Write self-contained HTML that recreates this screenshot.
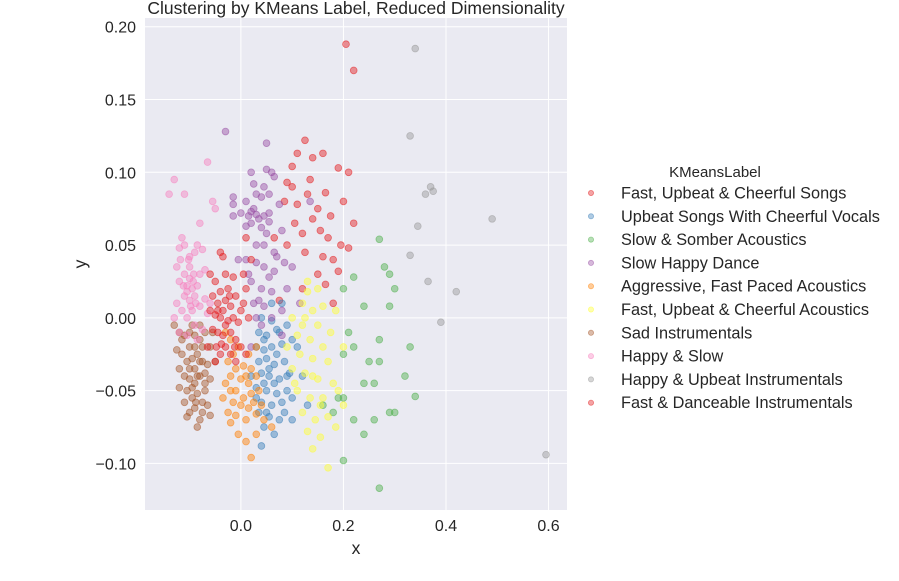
<!DOCTYPE html>
<html><head><meta charset="utf-8">
<style>
body{margin:0;background:#fff;}
svg text{font-family:"Liberation Sans",Arial,sans-serif;fill:#262626;}
</style></head>
<body>
<svg id="chart" width="899" height="576" xmlns="http://www.w3.org/2000/svg">
<rect x="145" y="18" width="422" height="492" fill="#eaeaf2"/>
<g id="grid"></g>
<g id="pts"></g>
<g id="ticks"></g>
<text x="356" y="14" font-size="17.5" text-anchor="middle">Clustering by KMeans Label, Reduced Dimensionality</text>
<text x="356" y="554" font-size="17.5" text-anchor="middle">x</text>
<text x="86" y="264" font-size="17.5" text-anchor="middle" transform="rotate(-90 86 264)">y</text>
<g id="legend">
<text x="715" y="177" font-size="15" text-anchor="middle">KMeansLabel</text>
</g>
</svg>
<script>
const xTicks=[0.0,0.2,0.4,0.6];
const xTickLabels=["0.0","0.2","0.4","0.6"];
const yTicks=[0.20,0.15,0.10,0.05,0.00,-0.05,-0.10];
const yTickLabels=["0.20","0.15","0.10","0.05","0.00","\u22120.05","\u22120.10"];
const labels=["Fast, Upbeat & Cheerful Songs","Upbeat Songs With Cheerful Vocals","Slow & Somber Acoustics","Slow Happy Dance","Aggressive, Fast Paced Acoustics","Fast, Upbeat & Cheerful Acoustics","Sad Instrumentals","Happy & Slow","Happy & Upbeat Instrumentals","Fast & Danceable Instrumentals"];
const colors=["#e41a1c","#377eb8","#4daf4a","#984ea3","#ff7f00","#ffff33","#a65628","#f781bf","#999999","#e41a1c"];
const cluster0=[[0.205,0.188],[0.22,0.17],[0.125,0.122],[0.11,0.113],[0.14,0.11],[0.1,0.104],[0.16,0.113],[0.19,0.103],[0.21,0.1],[0.09,0.093],[0.13,0.085],[0.165,0.086],[0.085,0.08],[0.15,0.075],[0.2,0.08],[0.11,0.078],[0.14,0.068],[0.175,0.07],[0.22,0.065],[0.17,0.055],[0.12,0.058],[0.195,0.05],[0.125,0.045],[0.09,0.05],[0.21,0.048],[0.16,0.042],[0.15,0.03],[0.12,0.02],[0.165,0.023],[0.18,0.01],[0.065,0.055],[0.075,0.012],[0.19,0.032],[0.1,0.09],[0.135,0.095],[0.155,0.06],[0.105,0.065],[0.18,0.04]];
const cluster1=[[0.04,0.0],[0.06,-0.002],[0.035,-0.01],[0.05,-0.012],[0.07,-0.008],[0.09,-0.005],[0.03,-0.02],[0.045,-0.022],[0.06,-0.02],[0.08,-0.018],[0.1,-0.015],[0.035,-0.03],[0.05,-0.028],[0.065,-0.032],[0.085,-0.03],[0.04,-0.038],[0.055,-0.04],[0.075,-0.042],[0.095,-0.038],[0.03,-0.048],[0.05,-0.05],[0.07,-0.052],[0.09,-0.05],[0.04,-0.058],[0.06,-0.06],[0.08,-0.058],[0.1,-0.055],[0.035,-0.065],[0.055,-0.068],[0.075,-0.07],[0.045,-0.075],[0.065,-0.08],[0.1,-0.07],[0.04,-0.088],[0.11,-0.02],[0.12,-0.04],[0.02,-0.04],[0.06,0.01],[0.08,0.01],[0.13,-0.06],[0.045,-0.015],[0.055,-0.035],[0.07,-0.025],[0.065,-0.045],[0.045,-0.045],[0.085,-0.065],[0.03,-0.055],[0.05,-0.065],[0.075,-0.01],[0.09,-0.04]];
const cluster2=[[0.27,0.054],[0.28,0.035],[0.29,0.03],[0.22,0.028],[0.2,0.02],[0.3,0.02],[0.24,0.008],[0.29,0.008],[0.21,-0.01],[0.27,-0.015],[0.22,-0.02],[0.2,-0.025],[0.33,-0.02],[0.25,-0.03],[0.27,-0.03],[0.24,-0.045],[0.26,-0.045],[0.34,-0.054],[0.2,-0.055],[0.29,-0.065],[0.3,-0.065],[0.16,-0.06],[0.18,-0.065],[0.22,-0.07],[0.26,-0.07],[0.2,-0.098],[0.27,-0.117],[0.24,-0.08],[0.19,-0.055],[0.32,-0.04]];
const cluster3=[[-0.03,0.128],[0.05,0.12],[0.02,0.1],[0.05,0.102],[0.06,0.1],[0.065,0.097],[0.025,0.092],[0.045,0.09],[0.03,0.085],[-0.015,0.083],[-0.015,0.078],[0.01,0.08],[0.04,0.083],[0.055,0.085],[0.075,0.078],[0.0,0.072],[0.015,0.07],[0.02,0.073],[0.03,0.071],[0.045,0.07],[0.055,0.072],[-0.015,0.07],[0.01,0.063],[0.02,0.065],[0.04,0.062],[0.055,0.066],[0.08,0.06],[0.03,0.05],[0.045,0.05],[0.065,0.045],[0.01,0.04],[0.03,0.038],[0.045,0.035],[0.07,0.042],[0.085,0.038],[0.02,0.025],[0.04,0.02],[0.06,0.018],[0.09,0.02],[0.025,0.01],[0.045,0.008],[0.06,0.0],[0.08,0.005],[0.04,-0.005],[0.08,-0.012],[0.02,-0.02],[0.115,0.01],[0.135,0.08],[-0.005,0.04],[0.1,0.035],[0.03,0.0],[0.065,0.032],[0.025,0.075],[0.035,0.068],[0.05,0.058],[0.015,0.03],[0.055,0.028],[0.035,0.012]];
const cluster4=[[-0.03,-0.01],[-0.02,-0.015],[-0.005,-0.02],[0.015,-0.025],[0.03,-0.02],[-0.025,-0.03],[-0.01,-0.035],[0.005,-0.033],[0.02,-0.035],[-0.02,-0.04],[0.0,-0.042],[0.015,-0.045],[0.03,-0.04],[-0.03,-0.045],[-0.01,-0.05],[0.005,-0.055],[0.02,-0.052],[0.035,-0.05],[-0.015,-0.058],[0.0,-0.06],[0.015,-0.062],[-0.025,-0.065],[-0.01,-0.067],[0.01,-0.07],[0.03,-0.066],[-0.02,-0.072],[0.045,-0.07],[-0.005,-0.08],[0.01,-0.085],[0.03,-0.08],[0.02,-0.096],[0.06,-0.075],[0.04,-0.06],[-0.035,-0.055],[-0.015,-0.025],[0.01,-0.04],[-0.02,-0.05],[0.025,-0.058]];
const cluster5=[[0.13,0.025],[0.15,0.02],[0.12,0.01],[0.14,0.005],[0.16,0.008],[0.1,0.0],[0.125,0.0],[0.15,-0.005],[0.175,-0.01],[0.11,-0.012],[0.135,-0.015],[0.16,-0.02],[0.115,-0.025],[0.14,-0.028],[0.17,-0.03],[0.2,-0.02],[0.1,-0.035],[0.125,-0.038],[0.15,-0.042],[0.18,-0.045],[0.11,-0.05],[0.135,-0.055],[0.16,-0.055],[0.19,-0.05],[0.12,-0.065],[0.145,-0.07],[0.17,-0.068],[0.2,-0.06],[0.13,-0.078],[0.155,-0.082],[0.185,-0.075],[0.14,-0.09],[0.17,-0.103],[0.105,-0.045],[0.09,-0.02],[0.185,0.005],[0.12,-0.005],[0.13,0.018],[0.14,-0.04],[0.155,-0.06]];
const cluster6=[[-0.13,-0.005],[-0.12,-0.01],[-0.11,-0.012],[-0.1,-0.02],[-0.09,-0.012],[-0.08,-0.015],[-0.07,-0.01],[-0.06,-0.02],[-0.125,-0.022],[-0.115,-0.025],[-0.105,-0.03],[-0.095,-0.028],[-0.085,-0.025],[-0.075,-0.03],[-0.065,-0.032],[-0.11,-0.04],[-0.1,-0.042],[-0.09,-0.045],[-0.08,-0.04],[-0.07,-0.045],[-0.06,-0.042],[-0.12,-0.048],[-0.105,-0.05],[-0.095,-0.055],[-0.085,-0.052],[-0.075,-0.058],[-0.065,-0.06],[-0.1,-0.065],[-0.09,-0.062],[-0.08,-0.07],[-0.06,-0.067],[-0.105,-0.068],[-0.085,-0.075],[-0.07,-0.05],[-0.05,-0.03],[-0.09,-0.035],[-0.12,-0.035],[-0.08,-0.005],[-0.095,-0.005],[-0.11,-0.058],[-0.055,-0.01],[-0.075,-0.02],[-0.1,-0.01],[-0.09,-0.02],[-0.08,-0.03],[-0.1,-0.035],[-0.085,-0.04],[-0.095,-0.048],[-0.075,-0.065],[-0.115,-0.015],[-0.07,-0.038],[-0.088,-0.058]];
const cluster7=[[-0.13,0.095],[-0.14,0.085],[-0.11,0.085],[-0.065,0.107],[-0.055,0.08],[-0.05,0.075],[-0.08,0.065],[-0.115,0.055],[-0.11,0.05],[-0.12,0.048],[-0.085,0.05],[-0.09,0.045],[-0.075,0.047],[-0.1,0.042],[-0.125,0.035],[-0.11,0.03],[-0.1,0.027],[-0.08,0.03],[-0.07,0.033],[-0.12,0.025],[-0.105,0.022],[-0.095,0.02],[-0.09,0.015],[-0.085,0.022],[-0.11,0.015],[-0.1,0.012],[-0.125,0.01],[-0.115,0.005],[-0.105,0.0],[-0.08,0.008],[-0.07,0.013],[-0.06,0.01],[-0.095,0.005],[-0.09,-0.005],[-0.12,-0.01],[-0.105,-0.012],[-0.085,-0.015],[-0.075,-0.008],[-0.13,0.0],[-0.1,0.035],[-0.092,0.03],[-0.065,0.003],[-0.118,0.04],[-0.105,0.018],[-0.098,0.008],[-0.088,0.01],[-0.112,0.022],[-0.102,0.04],[-0.093,0.025]];
const cluster8=[[0.34,0.185],[0.33,0.125],[0.37,0.09],[0.375,0.087],[0.36,0.085],[0.49,0.068],[0.345,0.063],[0.33,0.043],[0.365,0.025],[0.42,0.018],[0.39,-0.003],[0.595,-0.094]];
const cluster9=[[-0.04,0.045],[-0.035,0.042],[0.005,0.03],[-0.015,0.028],[-0.05,0.025],[-0.025,0.02],[-0.04,0.018],[0.01,0.02],[-0.055,0.015],[-0.045,0.01],[-0.03,0.012],[-0.02,0.008],[-0.01,0.015],[0.005,0.01],[-0.06,0.005],[-0.05,0.002],[-0.04,0.0],[-0.035,0.005],[-0.025,-0.002],[-0.015,0.0],[-0.005,-0.003],[-0.055,-0.008],[-0.045,-0.01],[-0.035,-0.012],[-0.02,-0.01],[-0.01,-0.015],[-0.03,-0.02],[-0.04,-0.025],[-0.02,-0.025],[-0.01,-0.03],[0.0,-0.02],[0.01,-0.025],[-0.05,-0.03],[0.015,0.0],[0.02,0.04],[0.01,0.055],[-0.06,0.03],[-0.03,0.03],[-0.065,-0.02],[0.0,0.005],[-0.045,0.005],[-0.03,-0.005],[-0.038,-0.018],[-0.022,0.015],[-0.012,-0.02],[-0.048,-0.02]];
const clusters=[cluster0,cluster1,cluster2,cluster3,cluster4,cluster5,cluster6,cluster7,cluster8,cluster9];

const X0=145,X1=567,Y0=18,Y1=510;
const xmin=-0.187,xmax=0.636,ymin=-0.132,ymax=0.206;
function sx(v){return X0+(v-xmin)/(xmax-xmin)*(X1-X0);}
function sy(v){return Y1-(v-ymin)/(ymax-ymin)*(Y1-Y0);}
const NS="http://www.w3.org/2000/svg";
function mk(tag,attrs,parent){const e=document.createElementNS(NS,tag);for(const k in attrs)e.setAttribute(k,attrs[k]);parent.appendChild(e);return e;}
const grid=document.getElementById('grid'),ticks=document.getElementById('ticks'),pts=document.getElementById('pts'),leg=document.getElementById('legend');
xTicks.forEach((t,i)=>{
  const l=mk('line',{x1:sx(t),x2:sx(t),y1:Y0,y2:Y1,stroke:'#fff','stroke-width':1},grid);
  
  
  const tx=mk('text',{x:sx(t),y:Y1+21,'font-size':16,'text-anchor':'middle'},ticks);
  tx.textContent=xTickLabels[i];
  
  
});
yTicks.forEach((t,i)=>{
  const l=mk('line',{x1:X0,x2:X1,y1:sy(t),y2:sy(t),stroke:'#fff','stroke-width':1},grid);
  
  
  const tx=mk('text',{x:X0-9,y:sy(t)+6,'font-size':16,'text-anchor':'end'},ticks);
  tx.textContent=yTickLabels[i];
  
  
});
clusters.forEach((c,ci)=>{
  c.forEach(p=>{
    const e=mk('circle',{cx:sx(p[0]),cy:sy(p[1]),r:3.4,fill:colors[ci],'fill-opacity':0.45,stroke:colors[ci],'stroke-opacity':0.55,'stroke-width':0.8},pts);
    
    
  });
});
labels.forEach((lb,i)=>{
  const y=193+i*23.3;
  const c=mk('circle',{cx:591,cy:y,r:2.6,fill:colors[i],'fill-opacity':0.4,stroke:colors[i],'stroke-opacity':0.5,'stroke-width':0.8},leg);
  
  
  const t=mk('text',{x:621,y:y+5.5,'font-size':16.3},leg);
  t.textContent=lb;
  
  
});
</script>
</body></html>
